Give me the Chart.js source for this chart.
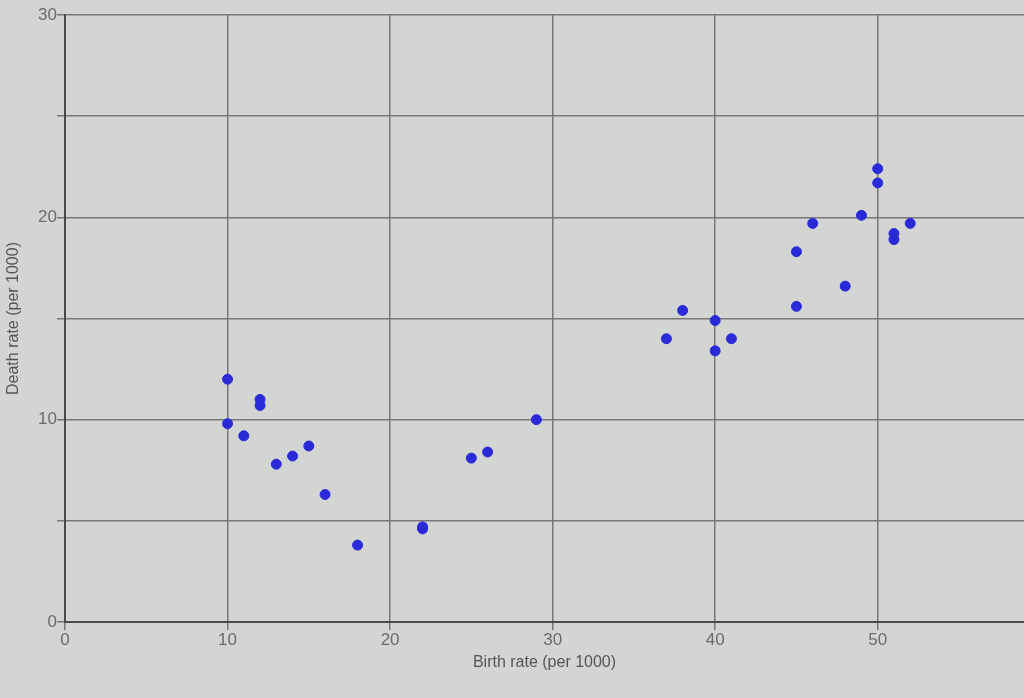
<!DOCTYPE html>
<html>
<head>
<meta charset="utf-8">
<script src="https://cdn.jsdelivr.net/npm/chart.js@4"></script>
<style>
  html, body { margin: 0; padding: 0; background: #d3d5d3; }
  #chart { display: block; }
</style>
</head>
<body>
<canvas id="chart" width="1024" height="698"></canvas>
<script>
"use strict";

/* ===== DADOS ===== */
const birthRate = [10, 10, 11, 12, 12, 13, 14, 15, 16, 18, 22, 22, 25, 26, 29,
                   37, 38, 40, 40, 41, 45, 45, 46, 48, 49, 50, 50, 51, 51, 52];
const deathRate = [12, 9.8, 9.2, 11, 10.7, 7.8, 8.2, 8.7, 6.3, 3.8, 4.7, 4.6, 8.1, 8.4, 10,
                   14, 15.4, 14.9, 13.4, 14, 15.6, 18.3, 19.7, 16.6, 20.1, 22.4, 21.7, 19.2, 18.9, 19.7];
const xTicks = [0, 10, 20, 30, 40, 50];
const yTicks = [0, 10, 20, 30];

const pontos = birthRate.map((b, i) => ({ x: b, y: deathRate[i] }));

const fonte = "'Liberation Sans', Arial, sans-serif";
const corTexto = "#6b6b6b";

/* ===== GRÁFICO ===== */
new Chart(document.getElementById("chart"), {
    type: "scatter",
    data: {
        datasets: [{
            data: pontos,
            backgroundColor: "#2a2ad8",
            borderColor: "#2a2ad8",
            pointRadius: 5,
            pointHoverRadius: 5
        }]
    },
    options: {
        responsive: false,
        animation: false,
        layout: { autoPadding: false, padding: { top: 15, right: 0, left: 0, bottom: 22 } },
        plugins: { legend: { display: false }, tooltip: { enabled: false } },
        scales: {
            x: {
                type: "linear",
                min: 0,
                max: 59,
                afterBuildTicks: axis => { axis.ticks = xTicks.map(v => ({ value: v })); },
                afterFit: axis => { axis.height = 54; },
                border: { color: "#4a4a4a", width: 2 },
                grid: { color: "#777", lineWidth: 1.5, tickLength: 8, tickColor: "#777" },
                ticks: { color: corTexto, font: { family: fonte, size: 17 }, padding: 0, maxRotation: 0 },
                title: {
                    display: true,
                    text: "Birth rate (per 1000)",
                    color: "#555",
                    font: { family: fonte, size: 16 },
                    padding: { top: 0 }
                }
            },
            y: {
                min: 0,
                max: 30,
                afterBuildTicks: axis => {
                    const t = [];
                    for (let v = 0; v <= 30; v += 5) t.push({ value: v });
                    axis.ticks = t;
                },
                afterFit: axis => { axis.width = 65; },
                border: { color: "#4a4a4a", width: 2 },
                grid: { color: "#777", lineWidth: 1.5, tickLength: 8, tickColor: "#777" },
                ticks: {
                    color: corTexto,
                    font: { family: fonte, size: 17 },
                    padding: 0,
                    callback: v => yTicks.includes(v) ? v : ""
                },
                title: {
                    display: true,
                    text: "Death rate (per 1000)",
                    color: "#555",
                    font: { family: fonte, size: 16 },
                    padding: { bottom: 0 }
                }
            }
        }
    }
});
</script>
</body>
</html>
